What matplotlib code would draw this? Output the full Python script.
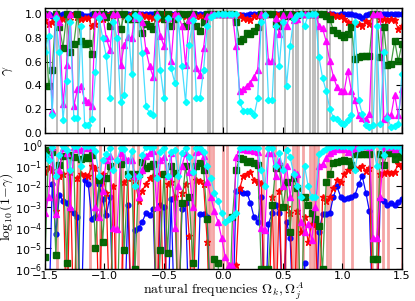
import numpy as np
import matplotlib
matplotlib.use("Agg")
import matplotlib.pyplot as plt

# natural frequency grid
freqs = np.linspace(-1.5, 1.5, 100)

# log10(1 - gamma) per oscillator; -9 marks exact locking (gamma = 1)
blue_e = [-9, -9, -1.9, -4.3, -2.4, -2.7, -2.8, -3.1, -3.3, -3.5,
          -9, -1.7, -1.9, -3.6, -3.5, -1.9, -2.6, -3.4, -2.5, -9,
          -9, -9, -9, -2.9, -9, -4.1, -4.0, -3.7, -3.3, -3.4,
          -3.1, -9, -2.9, -3.0, -9, -2.6, -9, -9, -3.1, -2.8,
          -9, -9, -9, -3.35, -3.35, -3.5, -9, -9, -9, -9,
          -9, -9, -9, -2.2, -2.2, -2.3, -2.3, -2.8, -3.5, -3.7,
          -2.5, -9, -3.8, -3.3, -2.9, -3.3, -9, -3.7, -4.5, -9,
          -9, -9, -5.7, -9, -9, -9, -4.2, -3.35, -3.35, -3.3,
          -2.5, -2.0, -2.5, -2.6, -2.55, -2.5, -2.4, -1.9, -1.5, -2.3,
          -3.2, -9, -9, -2.6, -2.7, -2.9, -2.8, -2.9, -2.75, -2.6]

red_e = [-1.3, -1.1, -1.2, -3.2, -1.5, -1.4, -9, -1.3, -9, -1.6,
         -1.4, -1.45, -1.5, -1.0, -1.1, -9, -1.4, -2.3, -9, -2.0,
         -9, -9, -1.8, -1.6, -9, -1.7, -2.7, -2.2, -1.9, -1.6,
         -1.5, -9, -1.4, -9, -1.9, -1.8, -2.5, -9, -2.3, -1.9,
         -4.4, -9, -1.7, -1.75, -1.9, -4.7, -9, -9, -9, -9,
         -9, -9, -9, -5.8, -2.1, -1.5, -1.4, -1.3, -1.7, -1.8,
         -1.85, -9, -9, -2.5, -9, -2.2, -9, -3.0, -3.3, -9,
         -3.2, -4.2, -3.5, -4.7, -3.8, -3.8, -9, -2.5, -2.7, -2.5,
         -2.1, -1.7, -1.8, -1.4, -1.2, -1.1, -1.1, -1.1, -1.0, -1.25,
         -1.1, -9, -9, -1.4, -1.35, -1.3, -1.35, -1.3, -0.9, -1.0]

green_e = [-5.4, -0.22, -0.33, -5.3, -0.95, -0.55, -5.7, -0.5, -0.6, -9,
           -0.65, -0.6, -0.62, -0.47, -5.0, -1.7, -4.7, -1.6, -1.0, -9,
           -9, -0.9, -5.1, -1.4, -1.4, -6.0, -1.4, -0.8, -1.1, -1.0,
           -0.9, -9, -5.1, -1.4, -5.2, -1.0, -1.35, -9, -2.8, -1.0,
           -2.5, -5.7, -1.0, -0.85, -1.2, -3.6, -9, -5.5, -5.7, -9,
           -9, -9, -3.5, -1.2, -0.64, -0.68, -0.8, -0.78, -0.85, -0.95,
           -6.0, -9, -6.0, -2.9, -1.1, -1.0, -3.0, -1.8, -4.2, -1.6,
           -2.1, -9, -2.5, -2.9, -3.3, -3.6, -3.9, -6.0, -1.8, -1.4,
           -0.86, -0.8, -0.75, -0.72, -0.77, -0.95, -0.42, -0.44, -0.45, -0.45,
           -0.45, -5.5, -5.5, -0.44, -0.95, -0.37, -0.38, -0.65, -0.4, -0.6]

magenta_e = [-3.3, -2.5, -0.09, -3.35, -1.2, -0.12, -0.37, -3.0, -0.11, -0.2,
             -0.22, -0.14, -0.13, -0.11, -3.0, -3.5, -2.2, -0.7, -0.52, -4.0,
             -4.05, -0.37, -0.59, -0.72, -0.7, -1.5, -2.5, -1.2, -0.52, -0.36,
             -0.28, -3.0, -0.74, -0.57, -1.5, -0.4, -4.0, -2.0, -1.0, -0.37,
             -1.3, -3.0, -0.34, -0.29, -0.55, -1.8, -2.5, -3.2, -3.7, -4.5,
             -5.4, -5.8, -5.8, -0.57, -0.19, -0.2, -0.22, -0.24, -0.28, -0.33,
             -4.0, -4.1, -0.4, -0.4, -1.5, -0.77, -2.0, -1.0, -2.5, -1.3,
             -1.4, -3.7, -4.2, -3.8, -4.6, -3.0, -1.0, -0.92, -0.64, -0.4,
             -0.28, -0.21, -0.19, -0.19, -0.32, -0.19, -0.14, -0.07, -0.06, -0.055,
             -0.075, -4.5, -4.5, -2.5, -0.055, -0.07, -0.07, -0.17, -0.07, -0.2]

cyan_e = [-0.5, -0.74, -0.07, -1.5, -0.5, -0.05, -0.25, -1.2, -0.06, -0.06,
          -1.0, -0.03, -0.03, -0.055, -0.31, -1.5, -0.7, -0.45, -0.15, -1.2,
          -0.7, -0.13, -0.17, -1.5, -0.3, -2.0, -1.5, -0.48, -0.11, -0.08,
          -0.07, -1.6, -0.33, -0.15, -1.5, -0.34, -0.24, -1.5, -0.36, -0.13,
          -0.59, -1.3, -0.15, -0.15, -0.33, -1.0, -1.6, -2.3, -2.7, -3.3,
          -3.7, -3.6, -3.5, -3.3, -0.13, -0.09, -0.09, -0.09, -0.07, -0.15,
          -1.2, -2.0, -0.14, -0.14, -1.0, -0.36, -1.2, -0.22, -0.57, -1.4,
          -2.0, -2.5, -1.0, -2.0, -2.5, -2.5, -0.44, -0.27, -0.19, -0.1,
          -0.06, -0.055, -0.04, -0.035, -0.05, -0.07, -1.2, -0.14, -0.075, -0.03,
          -0.022, -0.03, -1.0, -0.035, -0.5, -0.06, -0.022, -0.026, -0.035, -0.3]

# frequencies of the other population (vertical markers)
omega_A = [-1.399, -1.315, -1.223, -1.122, -1.038, -0.912, -0.853, -0.761, -0.718,
           -0.559, -0.492, -0.391, -0.265, -0.130, -0.113, -0.088, -0.004, 0.029,
           0.332, 0.433, 0.517, 0.584, 0.609, 0.626, 0.668, 0.727, 0.752, 0.769,
           0.794, 0.870, 0.895, 1.004, 1.080, 1.248, 1.290, 1.340, 1.382, 1.500]

series = [
    (blue_e, "#0000ff", "o", 3.5),
    (red_e, "#ff0000", "*", 5.0),
    (green_e, "#006400", "s", 3.8),
    (magenta_e, "#ff00ff", "^", 4.0),
    (cyan_e, "#00ffff", "D", 3.2),
]
line_cols = ["#0000ff", "#ff0000", "#3a9a3a", "#ff00ff", "#40dcff"]

plt.rcParams["font.family"] = ["DejaVu Sans"]
plt.rcParams["mathtext.fontset"] = "dejavusans"

fig = plt.figure(figsize=(4.15, 3.01), dpi=100)
ax1 = fig.add_axes([0.1084, 0.558, 0.860, 0.415])
ax2 = fig.add_axes([0.1084, 0.106, 0.860, 0.412])

for xv in omega_A:
    ax1.axvline(xv, color="0.72", lw=1.3, zorder=0)
    ax2.axvline(xv, color="#f08080", lw=2.0, alpha=0.7, zorder=0)

for (e, c, m, ms), lc in zip(series, line_cols):
    e = np.array(e, dtype=float)
    one_minus = 10.0 ** e
    gamma = 1.0 - one_minus
    ax1.plot(freqs, gamma, color=lc, lw=0.9, marker=m, ms=ms, mfc=c, mec=c, alpha=0.95)
    ax2.plot(freqs, one_minus, color=lc, lw=0.9, marker=m, ms=ms, mfc=c, mec=c, alpha=0.95)

ax1.set_xlim(-1.5, 1.5)
ax1.set_ylim(0.0, 1.05)
ax1.set_yticks([0.0, 0.2, 0.4, 0.6, 0.8, 1.0])
ax1.set_xticks([-1.5, -1.0, -0.5, 0.0, 0.5, 1.0, 1.5])
ax1.set_xticklabels([])
ax1.set_ylabel(r"$\gamma$", fontsize=11, math_fontfamily="cm")
ax1.yaxis.set_label_coords(-0.085, 0.5)

ax2.set_yscale("log")
ax2.set_xlim(-1.5, 1.5)
ax2.set_ylim(1e-6, 1.0)
ax2.set_yticks([1e0, 1e-1, 1e-2, 1e-3, 1e-4, 1e-5, 1e-6])
ax2.set_xticks([-1.5, -1.0, -0.5, 0.0, 0.5, 1.0, 1.5])
ax2.set_ylabel(r"$\log_{10}(1\!-\!\gamma)$", fontsize=10, math_fontfamily="cm")
ax2.yaxis.set_label_coords(-0.083, 0.5)
ax2.set_xlabel(r"$\mathrm{natural\ frequencies}\ \Omega_k,\Omega_j^A$", fontsize=10,
               math_fontfamily="cm", va="top")
ax2.xaxis.set_label_coords(0.5, -0.098)

for ax in (ax1, ax2):
    ax.tick_params(direction="in", top=True, right=True, labelsize=8, length=4, pad=2)
    ax.tick_params(which="minor", direction="in", top=True, right=True, length=2)
    for s in ax.spines.values():
        s.set_linewidth(1.0)
ax2.tick_params(axis="x", pad=1.5)

fig.savefig("out.png", dpi=100)
